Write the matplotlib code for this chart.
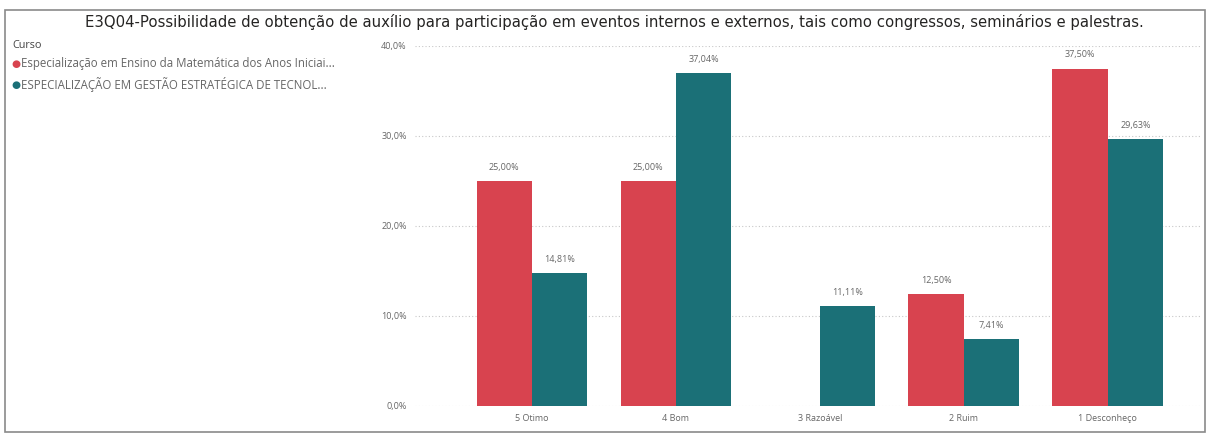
import matplotlib.pyplot as plt
import numpy as np
from matplotlib.patches import Rectangle

# Dados do gráfico
categorias = ["5 Otimo", "4 Bom", "3 Razoável", "2 Ruim", "1 Desconheço"]
especializacao_ensino = [25.00, 25.00, None, 12.50, 37.50]
especializacao_gestao = [14.81, 37.04, 11.11, 7.41, 29.63]
serie_nomes = ["Especialização em Ensino da Matemática dos Anos Iniciai...",
               "ESPECIALIZAÇÃO EM GESTÃO ESTRATÉGICA DE TECNOL..."]
y_ticks = [0, 10, 20, 30, 40]

titulo = ("E3Q04-Possibilidade de obtenção de auxílio para participação em eventos "
          "internos e externos, tais como congressos, seminários e palestras.")

cor_vermelho = "#D8434F"
cor_teal = "#1B7077"
cinza = "#666666"

plt.rcParams["font.family"] = ["Open Sans", "DejaVu Sans"]

fig = plt.figure(figsize=(12.08, 4.37), dpi=100)

# moldura do visual
fig.patches.append(Rectangle((5 / 1208, 5 / 437), 1200 / 1208, 422 / 437,
                             transform=fig.transFigure, fill=False,
                             edgecolor="#8a8a8a", linewidth=1.2))

ax = fig.add_axes([415 / 1208, 1 - 406 / 437, 785 / 1208, 360 / 437])

x = np.arange(len(categorias))
w = 0.385
v1 = [np.nan if v is None else v for v in especializacao_ensino]
ax.bar(x - w / 2, v1, w, color=cor_vermelho)
ax.bar(x + w / 2, especializacao_gestao, w, color=cor_teal)

for xi, v in zip(x, especializacao_ensino):
    if v is not None:
        ax.text(xi - w / 2, v + 1.0, f"{v:.2f}%".replace(".", ","), ha="center",
                va="bottom", fontsize=6.5, color=cinza)
for xi, v in zip(x, especializacao_gestao):
    ax.text(xi + w / 2, v + 1.0, f"{v:.2f}%".replace(".", ","), ha="center",
            va="bottom", fontsize=6.5, color=cinza)

ax.set_ylim(0, 40)
ax.set_xlim(-0.8125, 4.64)
ax.set_yticks(y_ticks)
ax.set_yticklabels([f"{t:.1f}%".replace(".", ",") for t in y_ticks])
ax.set_xticks(x)
ax.set_xticklabels(categorias)
ax.tick_params(axis="both", length=0, labelsize=6.5, labelcolor=cinza)
ax.tick_params(axis="y", pad=6)
ax.tick_params(axis="x", pad=6)
ax.grid(axis="y", linestyle=(0, (1, 2)), color="#c8c8c8", linewidth=0.8)
ax.set_axisbelow(True)
for s in ax.spines.values():
    s.set_visible(False)

fig.text(614 / 1208, 1 - 22 / 437, titulo, ha="center", va="center",
         fontsize=10.75, color="#252423", family=["DejaVu Sans"])

# legenda
fig.text(12 / 1208, 1 - 45 / 437, "Curso", ha="left", va="center",
         fontsize=7.8, color="#444444")
for i, (nome, cor) in enumerate(zip(serie_nomes, [cor_vermelho, cor_teal])):
    yy = 1 - (64 + 21 * i) / 437
    fig.text(11 / 1208, yy, "●", ha="left", va="center", fontsize=7.5, color=cor,
             family=["DejaVu Sans"])
    fig.text(21 / 1208, yy, nome, ha="left", va="center", fontsize=8.3, color=cinza)

fig.savefig("out.png", dpi=100)
